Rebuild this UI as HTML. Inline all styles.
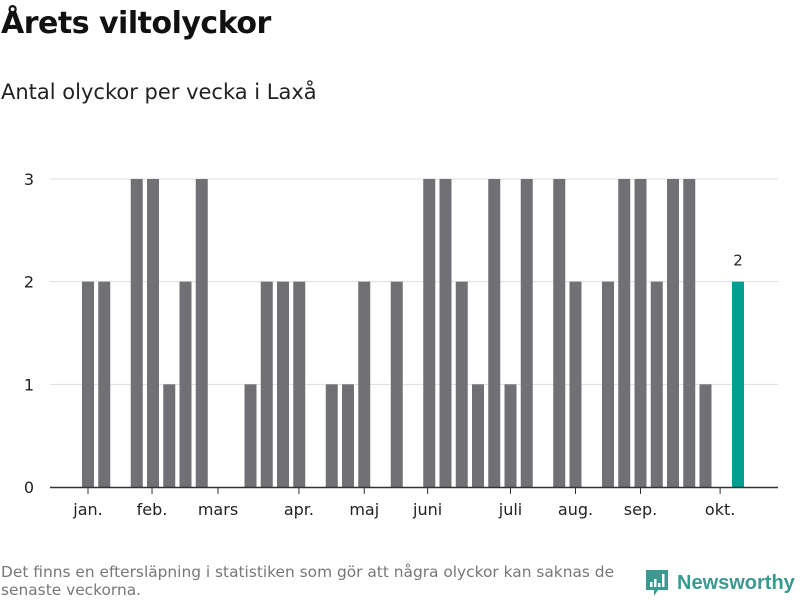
<!DOCTYPE html>
<html><head><meta charset="utf-8"><style>
body{margin:0;width:800px;height:600px;background:#fff;font-family:"DejaVu Sans","Liberation Sans",sans-serif;overflow:hidden;position:relative}
#t{position:absolute;left:1px;top:6px;font-size:30px;font-weight:bold;color:#111;letter-spacing:-0.5px}
#s{position:absolute;left:1px;top:80px;font-size:21px;color:#222}
#f{position:absolute;left:1px;top:563px;font-size:15.4px;color:#777;line-height:18px;width:625px}
#logo{position:absolute;left:644px;top:568px;display:flex;align-items:center;color:#3a9a8f;font-size:20px;font-weight:bold;font-family:"Liberation Sans",sans-serif}
svg{position:absolute;left:0;top:0}
</style></head><body>
<div id="t">Årets viltolyckor</div>
<div id="s">Antal olyckor per vecka i Laxå</div>
<svg id="c" width="800" height="600"></svg>
<div id="f">Det finns en eftersläpning i statistiken som gör att några olyckor kan saknas de senaste veckorna.</div>
<div id="logo"><svg style="position:static" width="26" height="30" viewBox="0 0 26 30"><path d="M2 2h22v20H14l-4 6v-6H2z" fill="#3a9a8f"/><rect x="6" y="14" width="2.5" height="5" fill="#fff"/><rect x="10" y="11" width="2.5" height="8" fill="#fff"/><rect x="14" y="15" width="2.5" height="4" fill="#fff"/><rect x="18" y="6" width="2.5" height="13" fill="#fff"/></svg><span style="margin-left:7px">Newsworthy</span></div>
<script>
const weeks=[1,2,3,4,5,6,7,8,9,10,11,12,13,14,15,16,17,18,19,20,21,22,23,24,25,26,27,28,29,30,31,32,33,34,35,36,37,38,39,40,41];
const counts=[2,2,0,3,3,1,2,3,0,0,1,2,2,2,0,1,1,2,0,2,0,3,3,2,1,3,1,3,0,3,2,0,2,3,3,2,3,3,1,0,2];
const monthLabels=["jan.","feb.","mars","apr.","maj","juni","juli","aug.","sep.","okt."];
const monthPos=[1,4.94,9.0,13.98,18,21.9,27,31,35,39.9];
const yTicks=[0,1,2,3];
const NS="http://www.w3.org/2000/svg",svg=document.getElementById('c');
const x=w=>88+(w-1)*16.25, y=v=>487-v*102.67;
function mk(t,a){const e=document.createElementNS(NS,t);for(const k in a)e.setAttribute(k,a[k]);svg.appendChild(e);return e;}
yTicks.forEach(v=>{
 if(v>0){const g=mk('line',{x1:50,x2:778,y1:y(v),y2:y(v),stroke:'#ddd','stroke-width':1});
 
 }
 const t=mk('text',{x:34,y:y(v)+6,'text-anchor':'end','font-size':16,fill:'#222'});t.textContent=v;
 
 
});
const last=weeks.length-1;
weeks.forEach((w,i)=>{
 if(counts[i]<=0)return;
 const r=mk('rect',{x:x(w)-6,y:y(counts[i]),width:12,height:y(0)-y(counts[i]),fill:i===last?'#009e8e':'#717075'});
 
 
});
const lb=mk('text',{x:x(weeks[last]),y:y(counts[last])-16,'text-anchor':'middle','font-size':15,fill:'#222'});lb.textContent=counts[last];


const ax=mk('line',{x1:50,x2:778,y1:487.5,y2:487.5,stroke:'#333','stroke-width':1.5});


monthLabels.forEach((m,i)=>{
 const px=x(monthPos[i]);
 const tk=mk('line',{x1:px,x2:px,y1:488,y2:494,stroke:'#333','stroke-width':1});
 
 
 const t=mk('text',{x:px,y:515,'text-anchor':'middle','font-size':16,fill:'#222'});t.textContent=m;
 
 
});
</script>
</body></html>
